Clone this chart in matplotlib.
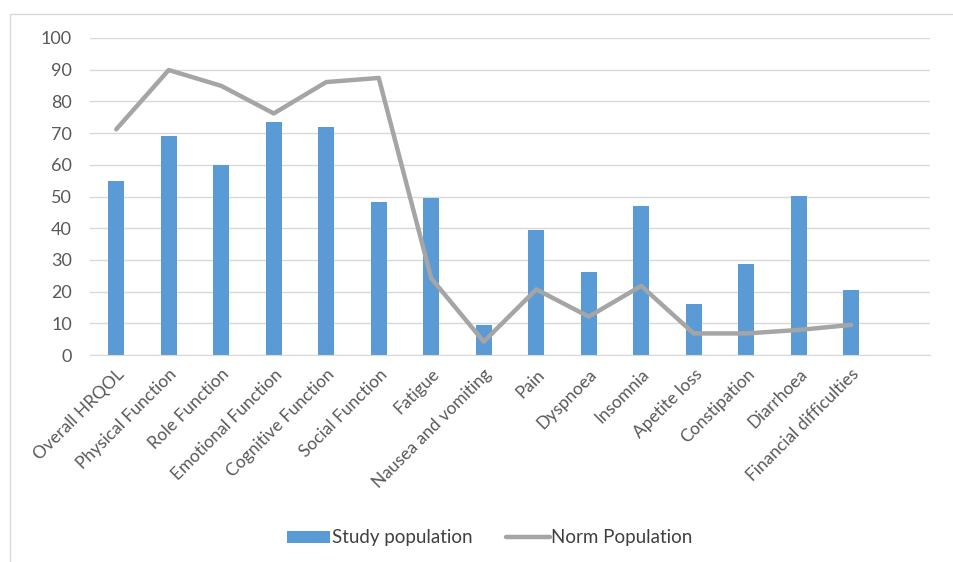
import matplotlib
matplotlib.use("Agg")
import matplotlib.pyplot as plt
from matplotlib.patches import Rectangle
import numpy as np

categories = ["Overall HRQOL", "Physical Function", "Role Function", "Emotional Function",
              "Cognitive Function", "Social Function", "Fatigue", "Nausea and vomiting",
              "Pain", "Dyspnoea", "Insomnia", "Apetite loss", "Constipation",
              "Diarrhoea", "Financial difficulties"]
study_population = [55, 69, 60, 73.4, 72, 48.2, 49.5, 9.5, 39.5, 26.3, 47, 16, 28.6, 50.3, 20.5]
norm_population = [71.2, 89.9, 84.9, 76.2, 86.1, 87.4, 24.2, 4.2, 20.7, 12.1, 21.8, 6.8, 6.8, 7.9, 9.5]
yticks = list(range(0, 101, 10))

plt.rcParams['font.family'] = ['Lato', 'DejaVu Sans']

W, H = 954, 562
fig = plt.figure(figsize=(W / 100, H / 100), dpi=100)
ax = fig.add_axes([90 / W, 1 - 355 / H, (930 - 90) / W, (355 - 38) / H])

x = np.arange(len(categories))
bars = ax.bar(x, study_population, width=0.3, color="#5B9BD5", label="Study population", zorder=2)
line, = ax.plot(x, norm_population, color="#A5A5A5", lw=3.2, label="Norm Population",
                solid_joinstyle="round", solid_capstyle="round", zorder=3)

ax.set_xlim(-0.5, 15.5)
ax.set_ylim(0, 100)
ax.set_yticks(yticks)
ax.yaxis.grid(True, color="#D9D9D9", lw=1)
ax.set_axisbelow(True)
for s in ["top", "right", "left"]:
    ax.spines[s].set_visible(False)
ax.spines["bottom"].set_color("#D9D9D9")
ax.tick_params(axis="both", length=0, labelcolor="#595959")
ax.tick_params(axis="y", pad=13, labelsize=13)
ax.set_xticks(x)
ax.set_xticklabels(categories, rotation=45, ha="right", rotation_mode="anchor", fontsize=12.5)
ax.tick_params(axis="x", pad=8)

fig.patches.append(Rectangle((10 / W, -0.1), 1.2, 1.1 - 14 / H, transform=fig.transFigure,
                             fill=False, edgecolor="#D9D9D9", lw=1))

fig.legend([bars, line], ["Study population", "Norm Population"],
           loc="center", bbox_to_anchor=(490 / W, 1 - 538 / H), ncol=2, frameon=False,
           fontsize=13.5, labelcolor="#404040", handlelength=2.3, columnspacing=1.8,
           handletextpad=0.1, handleheight=0.55)

fig.savefig("out.png", dpi=100)
